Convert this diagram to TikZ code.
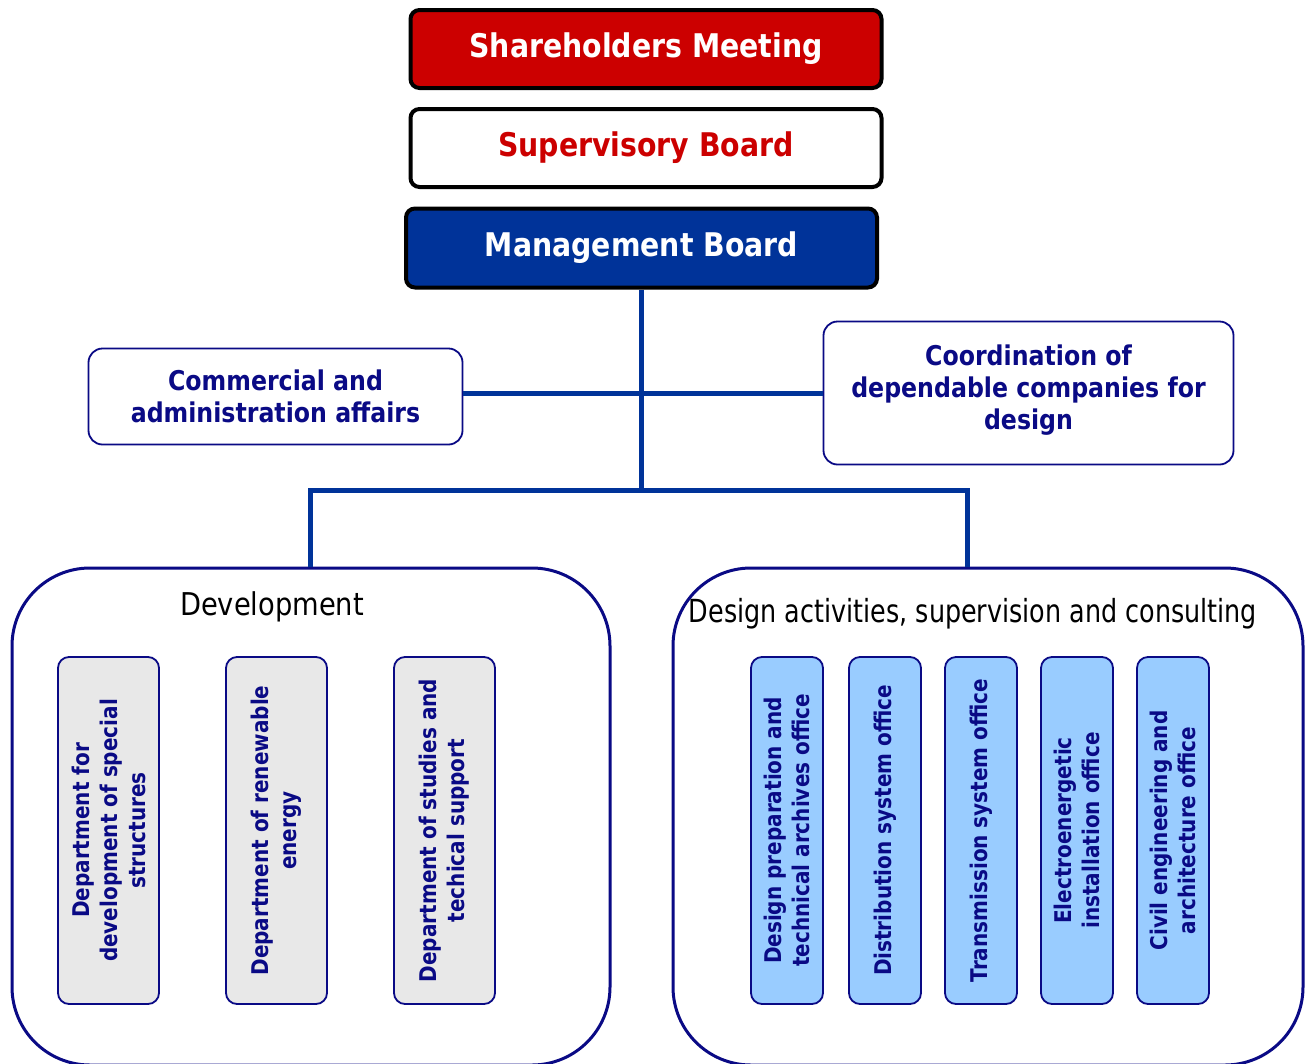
\documentclass[tikz,border=0pt]{standalone}
\usepackage{fontspec}
\setmainfont{DejaVu Sans}[FakeStretch=0.87]
\newfontfamily\capfont{DejaVu Sans}[FakeStretch=0.80]
\definecolor{sred}{HTML}{CC0000}
\definecolor{mblue}{HTML}{003399}
\definecolor{navyc}{HTML}{0A0A85}
\definecolor{lgrey}{HTML}{E8E8E8}
\definecolor{lblue}{HTML}{99CCFF}
\begin{document}
\begin{tikzpicture}[x=1pt,y=-1pt,
  topbox/.style={draw=black, line width=4pt, rounded corners=9pt, minimum width=471pt, minimum height=78pt, inner sep=0pt, font=\fontsize{32.6}{36}\selectfont\bfseries},
  midbox/.style={draw=navyc, line width=1.8pt, rounded corners=14pt, fill=white, inner sep=0pt, align=center, text=navyc, font=\fontsize{27.2}{32}\selectfont\bfseries},
  container/.style={draw=navyc, line width=3pt, rounded corners=78pt, inner sep=0pt},
  deptbox/.style={draw=navyc, line width=1.8pt, rounded corners=11pt, rotate=90, minimum width=347pt, inner sep=0pt, align=center, text=navyc, font=\fontsize{23}{28}\selectfont\bfseries},
  greybox/.style={deptbox, fill=lgrey, minimum height=101pt},
  bluebox/.style={deptbox, fill=lblue, minimum height=72pt},
  conn/.style={draw=mblue, line width=5pt},
  ctitle/.style={inner sep=0pt}
]
\clip (0,0) rectangle (1306,1063);
\fill[white] (0,0) rectangle (1306,1063);

\coordinate (hub) at (641.5,490);
\coordinate (bl) at (310,490);
\coordinate (br) at (967,490);

\node[topbox, fill=sred, text=white] (sh) at (646,49) {Shareholders Meeting};
\node[topbox, fill=white, text=sred] (sb) at (646,148) {Supervisory Board};
\node[topbox, fill=mblue, text=white, minimum height=79pt] (mb) at (641.5,248) {Management Board};

\node[midbox, minimum width=374pt, minimum height=96pt] (com) at (275.5,396.5) {Commercial and\\administration affairs};
\node[midbox, minimum width=410pt, minimum height=143pt, text depth=12pt] (cor) at (1028.5,393) {Coordination of\\dependable companies for\\design};

\node[container, minimum width=598pt, minimum height=497pt] (dev) at (311,816.5) {};
\node[container, minimum width=630pt, minimum height=497pt] (des) at (988,816.5) {};

\draw[conn] (mb.south) -- (hub);
\draw[conn] (com.east |- cor.west) -- (cor.west);
\draw[conn, line cap=rect] (bl) -- (br);
\draw[conn] (bl) -- (bl |- dev.north);
\draw[conn] (br) -- (br |- des.north);

\node[ctitle, font=\fontsize{31.4}{34}\selectfont] (devt) at (272,607) {Development};
\node[ctitle, font=\capfont\fontsize{31.8}{34}\selectfont] (dest) at (973,614) {Design activities, supervision and consulting};

\node[greybox] (g1) at (108.5,830.5) {Department for\\development of special\\structures};
\node[greybox] (g2) at (276.5,830.5) {Department of renewable\\energy};
\node[greybox] (g3) at (444.5,830.5) {Department of studies and\\techical support};

\node[bluebox] (b1) at (787,830.5) {Design preparation and\\technical archives office};
\node[bluebox] (b2) at (885,830.5) {Distribution system office};
\node[bluebox] (b3) at (981,830.5) {Transmission system office};
\node[bluebox] (b4) at (1077,830.5) {Electroenergetic\\installation office};
\node[bluebox] (b5) at (1173,830.5) {Civil engineering and\\architecture office};
\end{tikzpicture}
\end{document}
